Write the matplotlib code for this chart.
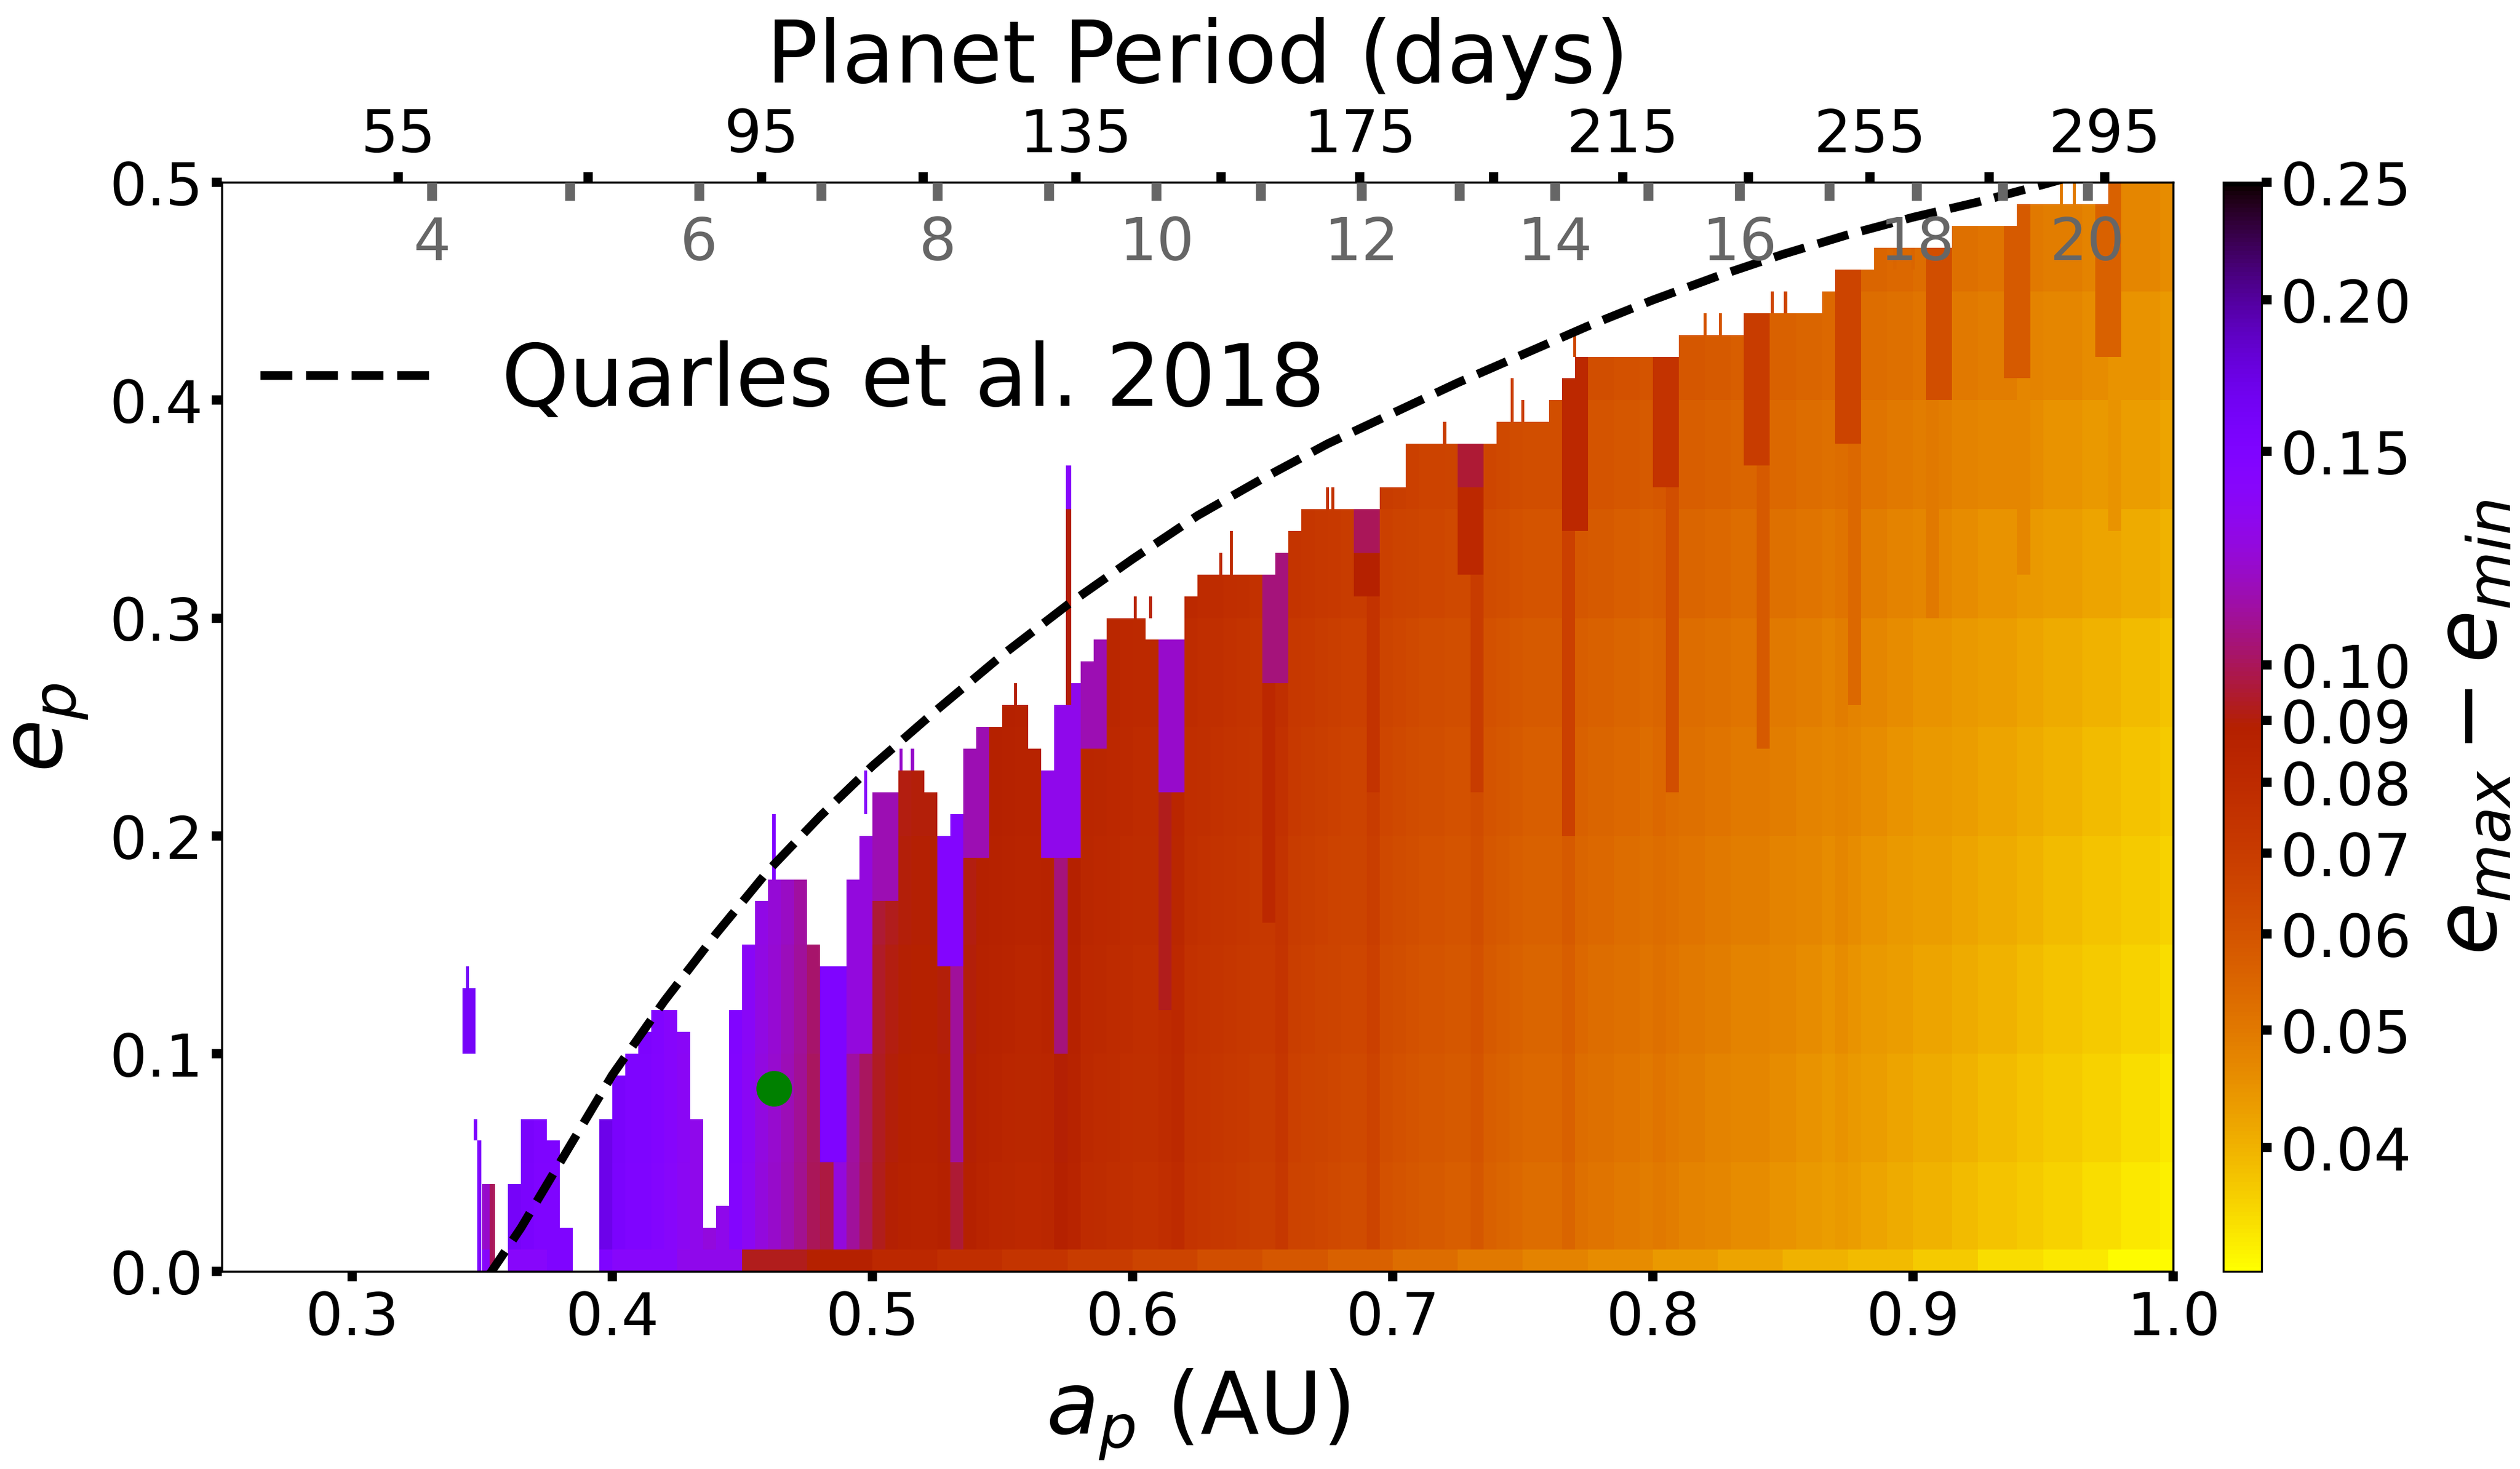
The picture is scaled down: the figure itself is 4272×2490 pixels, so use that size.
import numpy as np
import matplotlib
matplotlib.use('Agg')
import matplotlib.pyplot as plt
from matplotlib.colors import LogNorm
from matplotlib.ticker import NullLocator

# system numbers for the top axes (fitted to the tick positions)
M_TOT = 1.415   # total binary mass, Msun
P_BIN = 14.6    # binary period, days

# grid: a_p columns of 0.005 AU starting at 0.325, e_p rows of 0.01
A0, DA, DE = 0.325, 0.005, 0.01

# top of the stable region per a_p column
top_e = [0.0, 0.0, 0.0, 0.0,
         0.0, 0.04, 0.0, 0.04, 0.07, 0.07, 0.06, 0.02, 0.0, 0.0,
         0.07, 0.09, 0.10, 0.11, 0.12, 0.12, 0.11, 0.07, 0.02, 0.03,
         0.12, 0.15, 0.17, 0.18, 0.18, 0.18, 0.15, 0.14, 0.14, 0.18,
         0.20, 0.22, 0.22, 0.23, 0.23, 0.22, 0.20, 0.21, 0.24, 0.25,
         0.25, 0.26, 0.26, 0.24, 0.23, 0.26, 0.27, 0.28, 0.29, 0.30,
         0.30, 0.30, 0.29, 0.29, 0.29, 0.31, 0.32, 0.32, 0.32, 0.32,
         0.32, 0.32, 0.33, 0.34, 0.35, 0.35, 0.35, 0.35, 0.35, 0.35,
         0.36, 0.36, 0.38, 0.38, 0.38, 0.38, 0.38, 0.38, 0.38, 0.39,
         0.39, 0.39, 0.39, 0.40, 0.41, 0.42, 0.42, 0.42, 0.42, 0.42,
         0.42, 0.42, 0.42, 0.43, 0.43, 0.43, 0.43, 0.43, 0.44, 0.44,
         0.44, 0.44, 0.44, 0.44, 0.45, 0.46, 0.46, 0.46, 0.47, 0.47,
         0.47, 0.47, 0.47, 0.47, 0.48, 0.48, 0.48, 0.48, 0.48, 0.49,
         0.49, 0.49, 0.49, 0.49, 0.49, 0.49, 0.50, 0.50, 0.50, 0.50,
         0.50]

# e_max - e_min per a_p column, low e
col_val = [0.12, 0.12, 0.12, 0.12,
           0.12, 0.12, 0.15, 0.16, 0.155, 0.15, 0.15, 0.15, 0.15, 0.17,
           0.17, 0.155, 0.15, 0.15, 0.145, 0.14, 0.135, 0.13, 0.125, 0.13,
           0.145, 0.135, 0.125, 0.12, 0.115, 0.108, 0.10, 0.097, 0.125, 0.11,
           0.10, 0.092, 0.089, 0.087, 0.086, 0.086, 0.088, 0.095, 0.088, 0.085,
           0.084, 0.083, 0.082, 0.082, 0.083, 0.088, 0.085, 0.080, 0.079, 0.078,
           0.077, 0.076, 0.076, 0.078, 0.080, 0.074, 0.073, 0.072, 0.071, 0.070,
           0.069, 0.069, 0.072, 0.067, 0.066, 0.065, 0.064, 0.063, 0.063, 0.066,
           0.061, 0.060, 0.059, 0.058, 0.058, 0.057, 0.057, 0.059, 0.056, 0.055,
           0.054, 0.053, 0.053, 0.053, 0.055, 0.052, 0.051, 0.051, 0.050, 0.050,
           0.049, 0.050, 0.049, 0.048, 0.048, 0.047, 0.047, 0.046, 0.046, 0.046,
           0.045, 0.045, 0.044, 0.044, 0.043, 0.044, 0.043, 0.042, 0.042, 0.041,
           0.041, 0.040, 0.040, 0.040, 0.039, 0.039, 0.038, 0.038, 0.038, 0.037,
           0.037, 0.036, 0.036, 0.036, 0.035, 0.035, 0.035, 0.034, 0.034, 0.034,
           0.033]

# growth of e_max - e_min with e_p, per 0.05 band
row_add = [0.0, 0.001, 0.002, 0.003, 0.004, 0.005, 0.007, 0.009, 0.011, 0.013]

# the e_p = 0 row, per 0.025 AU block
bottom_val = [0.15, 0.14, 0.15, 0.14, 0.13, 0.092, 0.088, 0.082, 0.078,
              0.074, 0.070, 0.066, 0.062, 0.059, 0.056, 0.053, 0.050, 0.048,
              0.046, 0.044, 0.042, 0.040, 0.039, 0.037, 0.035, 0.034, 0.032]

# resonance regions inside the stable zone: a0, a1, e0, e1, value
res_a0 = [0.480, 0.490, 0.500, 0.525, 0.530, 0.535, 0.565, 0.570, 0.580, 0.610, 0.610,
          0.650, 0.650,
          0.685, 0.690, 0.685, 0.725, 0.730, 0.725,
          0.765, 0.765, 0.800, 0.805, 0.835, 0.840, 0.870, 0.875,
          0.905, 0.905, 0.935, 0.940, 0.970, 0.975]
res_a1 = [0.490, 0.500, 0.510, 0.535, 0.535, 0.545, 0.580, 0.575, 0.590, 0.620, 0.615,
          0.660, 0.655,
          0.695, 0.695, 0.695, 0.735, 0.735, 0.735,
          0.775, 0.770, 0.810, 0.810, 0.845, 0.845, 0.880, 0.880,
          0.915, 0.910, 0.945, 0.945, 0.980, 0.980]
res_e0 = [0.05, 0.10, 0.17, 0.14, 0.05, 0.19, 0.19, 0.10, 0.24, 0.22, 0.12,
          0.27, 0.16,
          0.31, 0.22, 0.33, 0.32, 0.22, 0.36,
          0.34, 0.20, 0.36, 0.22, 0.37, 0.24, 0.38, 0.26,
          0.40, 0.30, 0.41, 0.32, 0.42, 0.34]
res_e1 = [0.16, 0.21, 0.23, 0.22, 0.14, 0.26, 0.27, 0.19, 0.29, 0.30, 0.22,
          0.34, 0.27,
          0.36, 0.31, 0.36, 0.39, 0.32, 0.38,
          0.42, 0.34, 0.43, 0.36, 0.45, 0.37, 0.46, 0.38,
          0.48, 0.40, 0.49, 0.41, 0.50, 0.42]
res_val = [0.15, 0.125, 0.115, 0.145, 0.11, 0.115, 0.13, 0.105, 0.115, 0.12, 0.092,
           0.105, 0.082,
           0.088, 0.075, 0.10, 0.082, 0.07, 0.095,
           0.082, 0.068, 0.075, 0.062, 0.07, 0.058, 0.066, 0.054,
           0.062, 0.050, 0.058, 0.047, 0.056, 0.045]

# thin unstable-edge spikes and islands: a centre, width, e0, e1, value
spk_a = [0.3450, 0.3445, 0.3490, 0.3540, 0.3475, 0.4622, 0.4975, 0.5110, 0.5155,
         0.5755, 0.5755, 0.5550, 0.6010, 0.6070, 0.6340, 0.6380, 0.6750, 0.6770,
         0.7200, 0.7460, 0.7500, 0.7700, 0.8200, 0.8260, 0.8460, 0.8510,
         0.8930, 0.9000, 0.9570, 0.9620]
spk_w = [0.005, 0.0012, 0.0015, 0.002, 0.0012, 0.0012, 0.0012, 0.0012, 0.0012,
         0.002, 0.002, 0.0012, 0.0012, 0.0012, 0.0012, 0.0012, 0.0012, 0.0012,
         0.0012, 0.0012, 0.0012, 0.0012, 0.0012, 0.0012, 0.0012, 0.0012,
         0.0012, 0.0012, 0.0012, 0.0012]
spk_e0 = [0.10, 0.13, 0.00, 0.00, 0.06, 0.18, 0.21, 0.23, 0.23,
          0.26, 0.35, 0.26, 0.30, 0.30, 0.32, 0.32, 0.35, 0.35,
          0.38, 0.39, 0.39, 0.42, 0.43, 0.43, 0.44, 0.44,
          0.46, 0.46, 0.49, 0.49]
spk_e1 = [0.13, 0.14, 0.06, 0.04, 0.07, 0.21, 0.23, 0.24, 0.24,
          0.35, 0.37, 0.27, 0.31, 0.31, 0.33, 0.34, 0.36, 0.36,
          0.39, 0.41, 0.40, 0.43, 0.44, 0.44, 0.45, 0.45,
          0.47, 0.47, 0.50, 0.50]
spk_val = [0.16, 0.16, 0.15, 0.10, 0.15, 0.15, 0.14, 0.12, 0.12,
           0.09, 0.14, 0.09, 0.085, 0.085, 0.08, 0.08, 0.075, 0.075,
           0.07, 0.068, 0.068, 0.065, 0.06, 0.06, 0.065, 0.065,
           0.055, 0.055, 0.05, 0.05]

# Quarles et al. 2018 stability limit
quarles_a = [0.352, 0.365, 0.380, 0.400, 0.420, 0.440, 0.460, 0.480, 0.500, 0.525,
             0.550, 0.575, 0.600, 0.625, 0.650, 0.675, 0.700, 0.725, 0.750, 0.775,
             0.800, 0.825, 0.850, 0.875, 0.900, 0.925, 0.950, 0.965]
quarles_e = [-0.003, 0.020, 0.050, 0.090, 0.124, 0.155, 0.184, 0.209, 0.232, 0.258,
             0.283, 0.306, 0.327, 0.347, 0.364, 0.380, 0.394, 0.408, 0.421, 0.434,
             0.446, 0.457, 0.467, 0.476, 0.484, 0.491, 0.499, 0.504]

# TOI-1338 b
planet_a, planet_e = 0.4622, 0.084

period_ticks = [55, 75, 95, 115, 135, 155, 175, 195, 215, 235, 255, 275, 295]
ratio_ticks = list(range(4, 21))
cbar_ticks = [0.04, 0.05, 0.06, 0.07, 0.08, 0.09, 0.10, 0.15, 0.20, 0.25]


def a_of_period(p):
    return (np.asarray(p) / 365.25) ** (2 / 3) * M_TOT ** (1 / 3)


# ---- build the map
ncol = len(top_e)
a_edges = A0 + DA * np.arange(ncol + 1)
e_edges = DE * np.arange(51)
a_mid = 0.5 * (a_edges[1:] + a_edges[:-1])
e_mid = 0.5 * (e_edges[1:] + e_edges[:-1])

Z = np.full((50, ncol), np.nan)
for c in range(ncol):
    nrow = int(round(top_e[c] / DE))
    for r in range(nrow):
        if r == 0:
            Z[r, c] = bottom_val[c // 5]
        else:
            Z[r, c] = col_val[c] + row_add[r // 5]

for a0, a1, e0, e1, v in zip(res_a0, res_a1, res_e0, res_e1, res_val):
    cc = (a_mid > a0) & (a_mid < a1)
    rr = (e_mid > e0) & (e_mid < e1)
    blk = Z[np.ix_(rr, cc)]
    Z[np.ix_(rr, cc)] = np.where(np.isnan(blk), np.nan, v)

cmap = plt.get_cmap('gnuplot_r')
norm = LogNorm(vmin=10 ** -1.5, vmax=0.25)

fig = plt.figure(figsize=(14.243, 8.303), dpi=300)
ax = fig.add_axes([0.0880, 0.1345, 0.7742, 0.7410])

mesh = ax.pcolormesh(a_edges, e_edges, np.ma.masked_invalid(Z), cmap=cmap, norm=norm,
                     shading='flat')
for a, w, e0, e1, v in zip(spk_a, spk_w, spk_e0, spk_e1, spk_val):
    ax.pcolormesh([a - w / 2, a + w / 2], [e0, e1], [[v]], cmap=cmap, norm=norm)

ax.plot(quarles_a, quarles_e, 'k--', lw=3.5, label='Quarles et al. 2018')
ax.plot(planet_a, planet_e, 'o', color='green', ms=13.5)

ax.set_xlim(0.25, 1.0)
ax.set_ylim(0.0, 0.5)
ax.set_xticks([0.3, 0.4, 0.5, 0.6, 0.7, 0.8, 0.9, 1.0])
ax.set_yticks([0.0, 0.1, 0.2, 0.3, 0.4, 0.5])
ax.tick_params(labelsize=24, length=4, width=3.75, direction='out')
ax.set_xlabel(r'$a_p$ (AU)', fontsize=35, labelpad=8)
ax.set_ylabel(r'$e_p$', fontsize=35, labelpad=8)

ax.legend(loc='center left', bbox_to_anchor=(0.0197, 0.817), frameon=False,
          fontsize=35, borderpad=0, borderaxespad=0)

# top axis: planet period in days
ax2 = ax.twiny()
ax2.set_xlim(ax.get_xlim())
ax2.set_xticks(a_of_period(period_ticks))
ax2.set_xticklabels([str(p) if i % 2 == 0 else '' for i, p in enumerate(period_ticks)])
ax2.tick_params(labelsize=24, length=4, width=3.75, direction='out')
ax2.set_xlabel('Planet Period (days)', fontsize=35, labelpad=10)

# inner top axis: period ratio to the binary
ax3 = ax.twiny()
ax3.set_xlim(ax.get_xlim())
ax3.set_xticks(a_of_period(np.array(ratio_ticks) * P_BIN))
ax3.set_xticklabels([str(r) if r % 2 == 0 else '' for r in ratio_ticks])
ax3.tick_params(labelsize=24, length=7.5, width=4, direction='in', colors='#666666',
                pad=-36.5)
for s in ax3.spines.values():
    s.set_visible(False)

cax = fig.add_axes([0.8820, 0.1345, 0.0152, 0.7410])
cb = fig.colorbar(mesh, cax=cax)
cb.set_ticks(cbar_ticks)
cb.set_ticklabels(['%.2f' % t for t in cbar_ticks])
cb.ax.yaxis.set_minor_locator(NullLocator())
cb.ax.tick_params(labelsize=24, length=4, width=3.75)
cb.set_label(r'$e_{max} - e_{min}$', fontsize=35, labelpad=8)

fig.savefig('out.png', dpi=300)
